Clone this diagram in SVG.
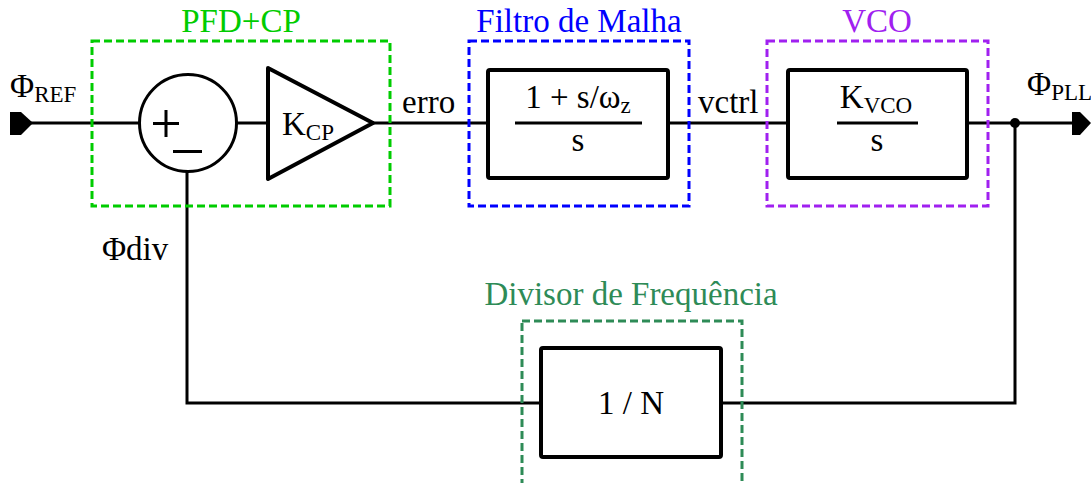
<svg xmlns="http://www.w3.org/2000/svg" width="1091" height="483" viewBox="0 0 1091 483">
<style>
.sub{font-size:23px}
.blk{fill:#fff;stroke:#000;stroke-width:4;stroke-linejoin:round}
.ln{fill:none;stroke:#000;stroke-width:3}
.grp{fill:none;stroke-width:3;stroke-dasharray:8,4}
</style>
<rect width="1091" height="483" fill="#fff"/>
<g id="connectors">
<path class="ln" d="M20 123H139M237 123H268M373 123H488M668 123H788M967 123H1080"/>
<path class="ln" d="M187 172V403H541M721 403H1015V123"/>
<circle cx="1015" cy="123" r="5" fill="#000"/>
</g>
<g font-family="Liberation Serif" font-size="33" fill="#000">
<g id="in">
<path d="M10 112H21L33 123L21 135H10Z" fill="#000"/>
<text x="10" y="97" font-family="Liberation Serif">Φ<tspan class="sub" dy="5">REF</tspan></text>
</g>
<g id="out">
<path d="M1072 112H1080L1091 123L1080 135H1072Z" fill="#000"/>
<text x="1027" y="95" font-family="Liberation Serif">Φ<tspan class="sub" dy="5">PLL</tspan></text>
</g>
<g id="pfd">
<rect class="grp" stroke="#00cc00" x="92" y="41" width="298" height="165"/>
<text x="241" y="32" text-anchor="middle" fill="#00cc00" font-family="Liberation Serif">PFD+CP</text>
<circle cx="188" cy="123" r="48.5" fill="#fff" stroke="#000" stroke-width="3"/>
<path class="ln" d="M153 123.5H179M166 110V137M173 151.5H202"/>
<path class="blk" stroke-width="3" d="M268 68L373 123L268 179Z"/>
<text x="282" y="135" font-family="Liberation Serif">K<tspan class="sub" dy="5">CP</tspan></text>
</g>
<g id="filtro">
<rect class="grp" stroke="#0000ff" x="469" y="41" width="220" height="165"/>
<text x="579" y="32" text-anchor="middle" fill="#0000ff" font-family="Liberation Serif">Filtro de Malha</text>
<rect class="blk" x="488" y="70" width="180" height="108" rx="2"/>
<line x1="515" y1="123" x2="642" y2="123" stroke="#000" stroke-width="3"/>
<text x="578" y="108" text-anchor="middle" font-family="Liberation Serif">1 + s/ω<tspan class="sub" dy="5">z</tspan></text>
<text x="578" y="151" text-anchor="middle" font-family="Liberation Serif">s</text>
</g>
<g id="vco">
<rect class="grp" stroke="#a020f0" x="767" y="41" width="221" height="165"/>
<text x="877" y="32" text-anchor="middle" fill="#a020f0" font-family="Liberation Serif">VCO</text>
<rect class="blk" x="788" y="70" width="179" height="108" rx="2"/>
<line x1="837" y1="123" x2="918" y2="123" stroke="#000" stroke-width="3"/>
<text x="876" y="108" text-anchor="middle" font-family="Liberation Serif">K<tspan class="sub" dy="5">VCO</tspan></text>
<text x="877" y="151" text-anchor="middle" font-family="Liberation Serif">s</text>
</g>
<g id="divisor">
<rect class="grp" stroke="#2e8b57" x="522" y="321" width="220" height="175"/>
<text x="631" y="305" text-anchor="middle" fill="#2e8b57" font-family="Liberation Serif">Divisor de Frequência</text>
<rect class="blk" x="541" y="348" width="180" height="109" rx="2"/>
<text x="631" y="414" text-anchor="middle" font-family="Liberation Serif">1 / N</text>
</g>
<g id="labels">
<text x="402" y="113" font-family="Liberation Serif">erro</text>
<text x="698" y="113" font-family="Liberation Serif">vctrl</text>
<text x="102" y="260" font-family="Liberation Serif">Φdiv</text>
</g>
</g>
</svg>
